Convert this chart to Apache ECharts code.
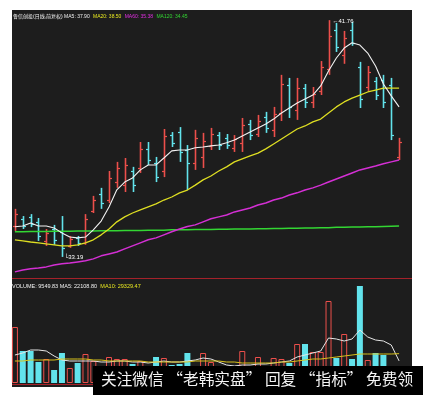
<!DOCTYPE html>
<html><head><meta charset="utf-8">
<script src="https://cdn.jsdelivr.net/npm/echarts@6/dist/echarts.min.js"></script>
<style>html,body{margin:0;padding:0;background:#fff;}#c{width:423px;height:395px;}</style>
</head><body><div id="c"></div>
<script>
const categories = ['1','2','3','4','5','6','7','8','9','10','11','12','13','14','15','16','17','18','19','20','21','22','23','24','25','26','27','28','29','30','31','32','33','34','35','36','37','38','39','40','41','42','43','44','45','46','47','48','49','50'];
const openP  = [34.30,34.55,34.65,34.45,33.75,34.20,34.10,33.60,33.88,33.70,34.85,35.45,35.25,35.90,35.80,36.30,36.40,37.10,36.60,36.30,37.60,37.70,37.05,36.60,36.80,37.20,37.60,37.50,37.15,37.30,38.00,37.65,38.25,37.80,38.40,39.40,38.50,39.30,38.80,39.20,40.00,41.40,40.50,41.40,40.05,39.35,39.55,39.60,39.40,36.80];
const closeP = [34.75,34.30,34.40,33.95,34.05,33.80,33.50,33.85,33.70,34.55,35.25,35.15,36.05,36.40,36.50,35.80,37.10,36.70,36.10,37.55,37.30,37.00,36.60,37.50,37.40,37.65,37.25,37.25,37.45,37.95,37.60,38.10,37.85,38.35,39.45,38.60,39.30,38.80,39.10,40.05,41.20,40.80,41.10,40.95,38.90,39.90,39.05,38.80,37.60,37.35];
const highP  = [34.93,34.67,34.74,34.60,34.20,34.35,34.67,33.95,33.95,34.74,35.40,35.69,36.30,36.63,36.77,36.45,37.35,37.35,36.81,37.82,37.71,37.89,37.24,37.79,37.68,37.86,37.71,37.64,37.60,38.22,38.15,38.33,38.44,38.62,39.78,39.67,39.67,39.45,39.34,40.28,41.76,41.66,41.37,41.70,40.25,40.10,39.70,39.78,39.67,37.50];
const lowP   = [34.13,34.20,34.27,33.77,33.59,33.63,33.19,33.52,33.59,33.63,34.78,34.93,35.14,35.69,35.54,35.54,36.23,36.52,35.90,36.08,37.17,36.63,35.61,36.34,36.41,37.06,37.06,37.10,36.99,36.99,37.42,37.53,37.68,37.53,38.11,38.22,38.15,38.58,38.58,39.05,39.78,40.61,40.18,40.83,38.58,39.20,38.87,38.58,37.42,36.70];
const ma5    = [34.28,34.31,34.42,34.31,34.31,34.24,34.06,33.91,33.88,33.91,34.17,34.49,35.00,35.62,35.90,36.05,36.34,36.52,36.52,36.77,37.03,37.06,37.06,37.14,37.17,37.21,37.24,37.32,37.42,37.57,37.71,37.86,38.00,38.18,38.40,38.58,38.76,38.91,39.05,39.38,39.92,40.39,40.75,40.94,40.86,40.57,40.10,39.45,39.02,38.62];
const ma20   = [33.81,33.77,33.73,33.70,33.66,33.63,33.59,33.59,33.63,33.70,33.81,33.99,34.20,34.46,34.64,34.78,34.89,35.00,35.11,35.25,35.36,35.51,35.61,35.79,35.98,36.12,36.30,36.45,36.63,36.74,36.85,36.95,37.10,37.28,37.46,37.64,37.82,37.93,38.08,38.18,38.40,38.62,38.80,38.94,39.05,39.16,39.23,39.30,39.30,39.30];
const ma60   = [32.65,32.72,32.76,32.79,32.83,32.90,32.94,32.97,33.01,33.05,33.12,33.23,33.30,33.37,33.48,33.59,33.70,33.81,33.88,33.99,34.10,34.20,34.29,34.35,34.46,34.57,34.64,34.71,34.82,34.89,34.96,35.07,35.14,35.25,35.32,35.43,35.51,35.61,35.69,35.79,35.90,36.01,36.12,36.23,36.34,36.41,36.48,36.56,36.63,36.70];
const ma120  = [34.10,34.10,34.11,34.11,34.11,34.12,34.12,34.12,34.13,34.13,34.13,34.14,34.14,34.14,34.15,34.15,34.15,34.16,34.16,34.16,34.17,34.17,34.17,34.18,34.18,34.18,34.19,34.19,34.20,34.20,34.20,34.21,34.21,34.22,34.22,34.23,34.23,34.24,34.24,34.25,34.25,34.26,34.26,34.27,34.27,34.28,34.28,34.29,34.30,34.31];
const volume = [56000,32000,32000,21000,24000,13000,30000,15000,20000,29000,22000,14000,26000,24000,24000,19000,22000,15000,26000,25000,18000,19000,30000,16000,30000,21000,14000,12000,11000,32000,13000,26000,14000,25000,24000,20000,39000,39000,31000,31000,82000,25000,49000,24000,97000,23000,30000,28000,17000,9549.83];
const volMa5 = [28000,30000,33000,33000,32000,27000,23000,22000,22000,22000,22000,21000,21000,22000,22000,21000,21000,20000,21000,22000,21000,21000,22000,23000,25000,24000,21000,18000,17000,18000,18000,19000,19000,20000,21000,22000,26000,28000,30000,32000,45000,44000,42000,44000,53000,46000,43000,42000,38000,22108.80];
const volMa10 = [22000,22000,23000,23000,23000,23000,24000,24000,24000,24000,23000,23000,22000,22000,22000,22000,22000,21000,21000,21000,21000,21000,21000,22000,22000,22000,22000,21000,21000,20000,20000,20000,20000,20000,21000,21000,22000,23000,24000,24000,25000,26000,27000,28000,29000,29000,29000,29000,29000,29329.47];

const UP = '#ec4f4b', DOWN = '#62e3ec', BG = '#1d1d1d';
const ohlc = categories.map((c, i) => [i, openP[i], closeP[i], lowP[i], highP[i]]);
const volData = volume.map((v, i) => {
  const up = closeP[i] >= openP[i];
  return { value: v, itemStyle: up ? { color: BG, borderColor: UP, borderWidth: 1 } : { color: DOWN } };
});

function renderOHLC(params, api) {
  const i = api.value(0);
  const o = api.coord([i, api.value(1)]);
  const c = api.coord([i, api.value(2)]);
  const l = api.coord([i, api.value(3)]);
  const h = api.coord([i, api.value(4)]);
  const color = api.value(2) >= api.value(1) ? UP : DOWN;
  const x = Math.round(h[0]) + 0.5;
  const t = 2.5;
  return { type: 'group', children: [
    { type: 'line', shape: { x1: x, y1: h[1], x2: x, y2: l[1] }, style: { stroke: color, lineWidth: 1.6 } },
    { type: 'line', shape: { x1: x - t, y1: Math.round(o[1]) + 0.5, x2: x, y2: Math.round(o[1]) + 0.5 }, style: { stroke: color, lineWidth: 1.2 } },
    { type: 'line', shape: { x1: x, y1: Math.round(c[1]) + 0.5, x2: x + t, y2: Math.round(c[1]) + 0.5 }, style: { stroke: color, lineWidth: 1.2 } }
  ] };
}

const chart = echarts.init(document.getElementById('c'), null, { renderer: 'canvas' });
const lineS = (name, data, color, w, xi) => ({
  name, type: 'line', data, xAxisIndex: xi, yAxisIndex: xi, symbol: 'none', smooth: false,
  lineStyle: { color, width: w }, silent: true, animation: false, z: 3
});
const tinyFont = 'Liberation Sans, Noto Sans CJK SC, sans-serif';
chart.setOption({
  animation: false,
  backgroundColor: '#fff',
  grid: [
    { left: 11, width: 392, top: 8, height: 268 },
    { left: 11, width: 392, top: 284, height: 99 }
  ],
  xAxis: [
    { type: 'category', data: categories, gridIndex: 0, boundaryGap: true, show: false },
    { type: 'category', data: categories, gridIndex: 1, boundaryGap: true, show: false }
  ],
  yAxis: [
    { type: 'value', gridIndex: 0, min: 32.5, max: 42.2, show: false, splitLine: { show: false } },
    { type: 'value', gridIndex: 1, min: 0, max: 99000, show: false, splitLine: { show: false } }
  ],
  series: [
    { type: 'custom', name: 'K', data: ohlc, renderItem: renderOHLC, xAxisIndex: 0, yAxisIndex: 0,
      encode: { x: 0, y: [1, 2, 3, 4] }, z: 2, silent: true },
    lineS('MA120', ma120, '#33d633', 1.5, 0),
    lineS('MA60', ma60, '#d42fd4', 1.5, 0),
    lineS('MA20', ma20, '#dede22', 1.3, 0),
    Object.assign(lineS('MA5', ma5, '#f2f2f2', 1.1, 0), {
      markPoint: { symbol: 'circle', symbolSize: 0, silent: true, data: [
        { coord: [40, 41.76], label: { show: true, formatter: '←41.76', position: 'right', offset: [-1, 1], color: '#fff', fontSize: 6, fontFamily: tinyFont } },
        { coord: [6, 33.19], label: { show: true, formatter: '└33.19', position: 'right', offset: [-3, 0], color: '#fff', fontSize: 6, fontFamily: tinyFont } }
      ] }
    }),
    { type: 'bar', name: 'VOL', data: volData, xAxisIndex: 1, yAxisIndex: 1, barWidth: 6, silent: true, z: 2 },
    lineS('VMA5', volMa5, '#e6e6e6', 1, 1),
    lineS('VMA10', volMa10, '#d8c21c', 1, 1)
  ],
  graphic: [
    { type: 'rect', z: -10, silent: true, shape: { x: 12, y: 10, width: 400, height: 377 }, style: { fill: BG } },
    { type: 'line', z: 5, silent: true, shape: { x1: 12, y1: 278.5, x2: 412, y2: 278.5 }, style: { stroke: '#a4222a', lineWidth: 1 } },
    { type: 'line', z: 5, silent: true, shape: { x1: 12, y1: 384.5, x2: 412, y2: 384.5 }, style: { stroke: '#a4222a', lineWidth: 1 } },
    { type: 'text', z: 6, silent: true, left: 13, top: 11,
      style: { text: '{w|鲁信创投(日线,前复权) MA5: 37.90} {y|MA20: 38.50} {m|MA60: 35.38} {g|MA120: 34.45}',
        rich: { w: { fill: '#f0f0f0', fontSize: 5, fontFamily: tinyFont }, y: { fill: '#e8e820', fontSize: 5, fontFamily: tinyFont },
                m: { fill: '#e22ee2', fontSize: 5, fontFamily: tinyFont }, g: { fill: '#33d633', fontSize: 5, fontFamily: tinyFont } } } },
    { type: 'text', z: 6, silent: true, left: 12, top: 280,
      style: { text: '{w|VOLUME: 9549.83 MA5: 22108.80} {y|MA10: 29329.47}',
        rich: { w: { fill: '#f0f0f0', fontSize: 5.5, fontFamily: tinyFont }, y: { fill: '#e8e820', fontSize: 5.5, fontFamily: tinyFont } } } },
    { type: 'rect', z: 50, silent: true, shape: { x: 93, y: 366, width: 330, height: 29 }, style: { fill: '#000' } },
    { type: 'text', z: 51, silent: true, left: 101, top: 371,
      style: { text: '关注微信 “老韩实盘” 回复 “指标” 免费领', fill: '#f4f4f4', fontSize: 15.7, fontFamily: 'Noto Sans CJK SC' } }
  ]
});
</script></body></html>
